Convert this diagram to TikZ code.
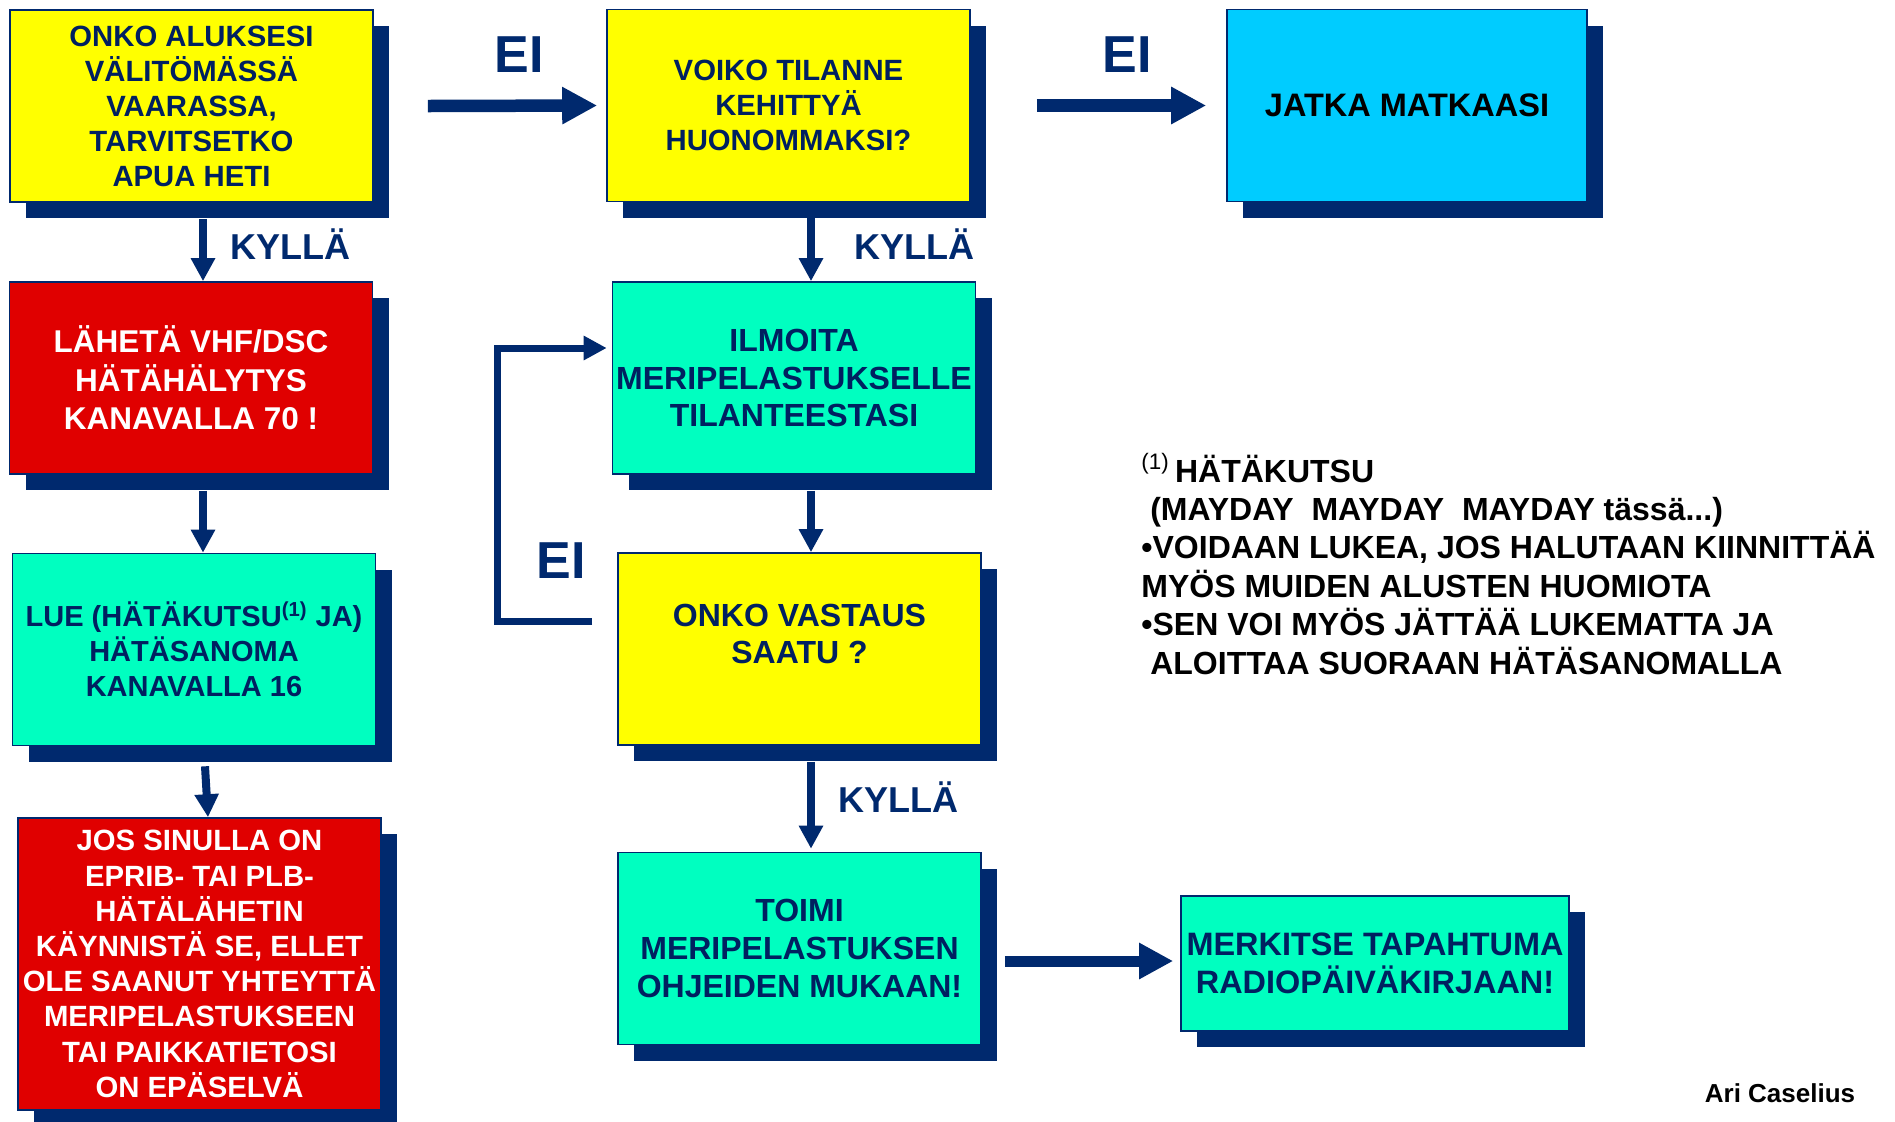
\documentclass[tikz,border=0pt]{standalone}
\usepackage{fontspec}
\setmainfont{Liberation Sans}
\usetikzlibrary{arrows.meta,shadows}

\definecolor{navy}{RGB}{0,41,110}
\definecolor{textnavy}{RGB}{0,32,96}
\definecolor{boxyellow}{RGB}{255,255,0}
\definecolor{boxred}{RGB}{224,0,0}
\definecolor{boxaqua}{RGB}{0,255,192}
\definecolor{boxblue}{RGB}{0,204,255}

\newcommand{\boxfont}[2]{\fontsize{#1}{#2}\selectfont\bfseries}

\begin{document}
\begin{tikzpicture}[x=0.5pt,y=-0.5pt,
  box/.style={draw=navy, line width=0.8pt, inner sep=0pt, align=center, text=textnavy,
    font=\boxfont{14.65pt}{17.5pt}, minimum width=181.5pt, minimum height=96pt,
    drop shadow={shadow xshift=8pt, shadow yshift=-8pt, opacity=1, fill=navy}},
  answer/.style={text=navy, inner sep=0pt, anchor=base, font=\boxfont{18pt}{20pt}},
  eilabel/.style={text=navy, inner sep=0pt, anchor=base, font=\boxfont{26pt}{28pt}},
  bigarrow/.style={draw=navy, line width=6.25pt, -{Triangle[length=17.5pt,width=17.5pt]}},
  downarrow/.style={draw=navy, line width=4pt, -{Triangle[length=11.5pt,width=11.5pt]}},
  looparrow/.style={draw=navy, line width=3.5pt, -{Triangle[length=11.5pt,width=11.5pt]}}]

\useasboundingbox (0,0) rectangle (1895,1121);
\clip (0,0) rectangle (1895,1121);
\fill[white] (0,0) rectangle (1895,1121);

% ylarivi
\node[box, fill=boxyellow] (vaara) at (191.5,106) {ONKO ALUKSESI\\VÄLITÖMÄSSÄ\\VAARASSA,\\TARVITSETKO\\APUA HETI};
\node[box, fill=boxyellow] (kehitys) at (788.5,105.5) {VOIKO TILANNE\\KEHITTYÄ\\HUONOMMAKSI?};
\node[box, fill=boxblue, text=black, minimum width=180pt, font=\boxfont{16.25pt}{18pt}] (jatka) at (1407,105.5) {JATKA MATKAASI};

% vasen sarake
\node[box, fill=boxred, text=white, font=\boxfont{15.75pt}{19.25pt}] (halytys) at (191,378) {LÄHETÄ VHF/DSC\\HÄTÄHÄLYTYS\\KANAVALLA 70 !};
\node[box, fill=boxaqua, font=\boxfont{14.5pt}{17.5pt}] (hatasanoma) at (194,649.5) {LUE (HÄTÄKUTSU\textsuperscript{(1)} JA)\\HÄTÄSANOMA\\KANAVALLA 16};
\node[box, fill=boxred, text=white, minimum height=146pt, font=\boxfont{14.65pt}{17.6pt}] (epirb) at (199.5,964) {JOS SINULLA ON\\EPRIB- TAI PLB-\\HÄTÄLÄHETIN\\KÄYNNISTÄ SE, ELLET\\OLE SAANUT YHTEYTTÄ\\MERIPELASTUKSEEN\\TAI PAIKKATIETOSI\\ON EPÄSELVÄ};

% keskisarake
\node[box, fill=boxaqua, font=\boxfont{16pt}{18.75pt}] (ilmoita) at (794,378) {ILMOITA\\MERIPELASTUKSELLE\\TILANTEESTASI};
\node[box, fill=boxyellow] (vastaus) at (799.5,649) {};
\node[text=textnavy, align=center, inner sep=0pt, font=\boxfont{16pt}{18.5pt}] (vastausteksti) at (799.5,634) {ONKO VASTAUS\\SAATU ?};
\node[box, fill=boxaqua, font=\boxfont{16pt}{19pt}] (toimi) at (799.5,948.5) {TOIMI\\MERIPELASTUKSEN\\OHJEIDEN MUKAAN!};
\node[box, fill=boxaqua, minimum width=194pt, minimum height=67.5pt, font=\boxfont{16.2pt}{19pt}] (merkitse) at (1375,963.5) {MERKITSE TAPAHTUMA\\RADIOPÄIVÄKIRJAAN!};

% nuolet
\draw[bigarrow] ([xshift=27pt]vaara.east) -- ([xshift=-4.5pt]kehitys.west);
\draw[bigarrow] ([xshift=33pt]kehitys.east) -- ([xshift=-10pt]jatka.west);
\draw[downarrow] ([xshift=5.75pt,yshift=-8pt]vaara.south) -- ([xshift=6pt]halytys.north);
\draw[downarrow] ([xshift=6pt,yshift=-8pt]halytys.south) -- ([xshift=4.5pt]hatasanoma.north);
\draw[downarrow] ([xshift=5.5pt,yshift=-10pt]hatasanoma.south) -- ([xshift=4.25pt]epirb.north);
\draw[downarrow] ([xshift=11.25pt,yshift=-8pt]kehitys.south) -- ([xshift=8.5pt]ilmoita.north);
\draw[downarrow] ([xshift=8.5pt,yshift=-8pt]ilmoita.south) -- ([xshift=5.75pt]vastaus.north);
\draw[downarrow] ([xshift=5.75pt,yshift=-8pt]vastaus.south) -- ([xshift=5.75pt,yshift=1.5pt]toimi.north);
\draw[looparrow] ([xshift=-12.5pt,yshift=14pt]vastaus.west) -- ++(-95,0) |- ([xshift=-2.5pt,yshift=15pt]ilmoita.west);
\draw[bigarrow, line width=5.5pt, -{Triangle[length=17pt,width=17pt]}] ([xshift=11.5pt,yshift=-6.25pt]toimi.east) -- ([xshift=-3.5pt,yshift=1.25pt]merkitse.west);

% vastaukset
\node[eilabel] (eiA) at (519,72) {EI};
\node[eilabel] (eiB) at (1127,72) {EI};
\node[eilabel] (eiC) at (561.5,578) {EI};
\node[answer] (kyllaA) at (290,259) {KYLLÄ};
\node[answer] (kyllaB) at (914,259) {KYLLÄ};
\node[answer] (kyllaC) at (898,812) {KYLLÄ};

% huomautus
\node[anchor=base west, align=left, inner sep=0pt, font=\boxfont{16pt}{19.2pt}] (huomio) at (1141,674)
  {\textsuperscript{\mdseries(1)}\,HÄTÄKUTSU\\
   \ (MAYDAY\ \ MAYDAY\ \ MAYDAY tässä...)\\
   •VOIDAAN LUKEA, JOS HALUTAAN KIINNITTÄÄ\\
   MYÖS MUIDEN ALUSTEN HUOMIOTA\\
   •SEN VOI MYÖS JÄTTÄÄ LUKEMATTA JA\\
   \ ALOITTAA SUORAAN HÄTÄSANOMALLA};
\node[anchor=base, inner sep=0pt, font=\boxfont{13pt}{15pt}] (tekija) at (1780,1102) {Ari Caselius};

\end{tikzpicture}
\end{document}
